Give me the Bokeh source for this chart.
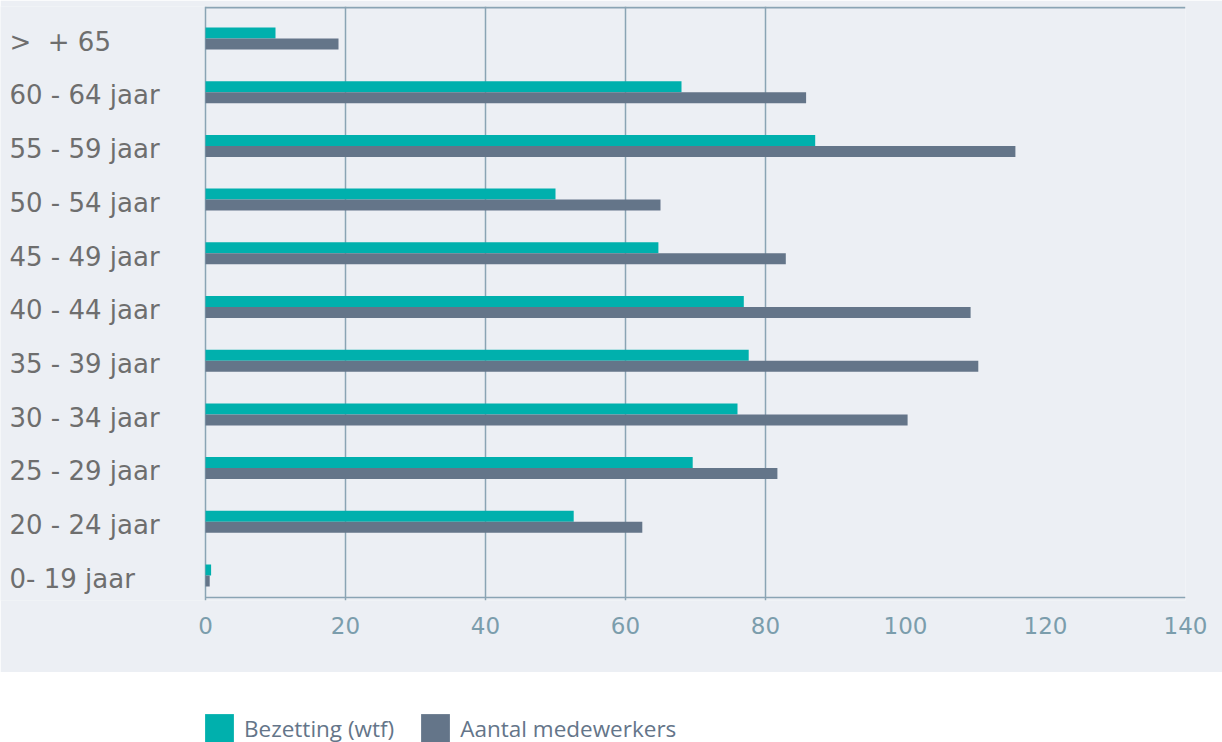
from bokeh.plotting import figure
from bokeh.models import Range1d, FixedTicker, ColumnDataSource, Legend, LegendItem
from bokeh.layouts import column
from bokeh.core.properties import value
from bokeh.embed import file_html
from bokeh.resources import INLINE

# ---- data ----
categories = ["0- 19 jaar", "20 - 24 jaar", "25 - 29 jaar", "30 - 34 jaar", "35 - 39 jaar",
              "40 - 44 jaar", "45 - 49 jaar", "50 - 54 jaar", "55 - 59 jaar", "60 - 64 jaar",
              ">\u00a0 + 65"]
bezetting = [0.8, 52.6, 69.6, 76.0, 77.6, 76.9, 64.7, 50.0, 87.1, 68.0, 10.0]
medewerkers = [0.6, 62.4, 81.7, 100.3, 110.4, 109.3, 82.9, 65.0, 115.7, 85.8, 19.0]
x_ticks = [0, 20, 40, 60, 80, 100, 120, 140]
grid_ticks = [0, 20, 40, 60, 80]
series_names = ["Bezetting (wtf)", "Aantal medewerkers"]

BG = "#ECEFF4"
TEAL = "#00B0AD"
SLATE = "#647589"
GRID = "#8AA4B4"
TICK = "#7B9DAC"
LABEL = "#6E6E6E"

PX_PER_UNIT = 7.0          # horizontal scale
LEFT_PAD_PX = 205          # room for category labels inside the frame
X_START = -LEFT_PAD_PX / PX_PER_UNIT
X_END = 140
LABEL_X = X_START + 9 / PX_PER_UNIT

pos = list(range(len(categories)))
bar_h = 0.205
src = ColumnDataSource(dict(
    pos=pos,
    pos_top=[p_ + bar_h / 2 for p_ in pos],
    pos_bot=[p_ - bar_h / 2 for p_ in pos],
    label_y=[p_ - 0.06 for p_ in pos],
    cat=categories,
    bez=bezetting,
    med=medewerkers,
))

Y_START, Y_END = -0.4655, 10.596
Y_BOTTOM_LINE, Y_TOP_LINE = -0.41, 10.577

# ---- main plot ----
p = figure(width=1222, height=672, x_range=Range1d(X_START, X_END),
           y_range=Range1d(Y_START, Y_END),
           output_backend="svg", toolbar_location=None)
p.min_border_left = 0
p.min_border_right = 37
p.min_border_top = 6
p.min_border_bottom = 72
p.background_fill_color = BG
p.border_fill_color = BG
p.outline_line_color = None

p.hbar(y="pos_top", left=0, right="bez", height=bar_h, source=src,
       fill_color=TEAL, line_color=None)
p.hbar(y="pos_bot", left=0, right="med", height=bar_h, source=src,
       fill_color=SLATE, line_color=None)

# axis frame lines (top and bottom), spanning the value scale only
p.segment(x0=[0, 0], x1=[X_END, X_END], y0=[Y_BOTTOM_LINE, Y_TOP_LINE],
          y1=[Y_BOTTOM_LINE, Y_TOP_LINE], line_color=GRID, line_width=[1.6, 2])

p.text(x=LABEL_X, y="label_y", text="cat", source=src,
       text_font=value("DejaVu Sans"), text_font_size="26px",
       text_color=LABEL, text_align="left", text_baseline="middle")

p.yaxis.visible = False
p.ygrid.visible = False
p.xgrid.ticker = FixedTicker(ticks=grid_ticks)
p.xgrid.grid_line_color = GRID
p.xgrid.grid_line_width = 1.5

ax = p.xaxis[0]
ax.ticker = FixedTicker(ticks=x_ticks)
ax.axis_line_color = None
ax.major_tick_line_color = None
ax.minor_tick_line_color = None
ax.major_label_standoff = 10
ax.major_label_text_font = "DejaVu Sans"
ax.major_label_text_font_size = "23px"
ax.major_label_text_color = TICK

# ---- legend strip ----
leg = figure(width=1222, height=70, x_range=Range1d(0, 1), y_range=Range1d(0, 1),
             output_backend="svg", toolbar_location=None)
leg.min_border_left = 0
leg.min_border_right = 0
leg.min_border_top = 0
leg.min_border_bottom = 0
leg.axis.visible = False
leg.grid.visible = False
leg.outline_line_color = None
leg.background_fill_color = "white"
leg.border_fill_color = "white"
dummy = ColumnDataSource(dict(y=[-10], right=[1]))
r1 = leg.hbar(y="y", right="right", height=0.1, source=dummy, fill_color=TEAL, line_color=None)
r2 = leg.hbar(y="y", right="right", height=0.1, source=dummy, fill_color=SLATE, line_color=None)
legend = Legend(items=[LegendItem(label=series_names[0], renderers=[r1]),
                       LegendItem(label=series_names[1], renderers=[r2])],
                location=(201, -4), orientation="horizontal",
                glyph_width=36, glyph_height=36, label_standoff=7, spacing=23,
                padding=0, margin=0, border_line_color=None, background_fill_alpha=0,
                label_text_font="Open Sans", label_text_font_size="22.5px",
                label_text_color=SLATE)
leg.add_layout(legend)

layout = column(p, leg, spacing=0)
open("out.html", "w").write(file_html(layout, INLINE))
